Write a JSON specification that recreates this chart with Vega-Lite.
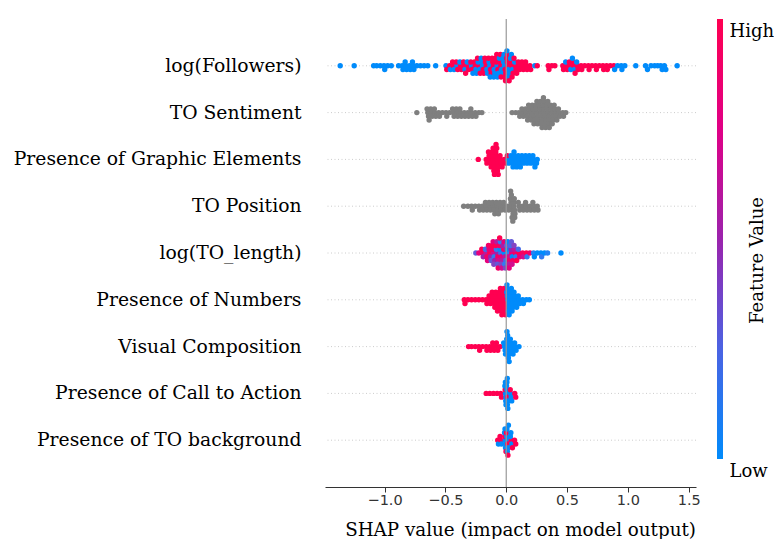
{
  "$schema": "https://vega.github.io/schema/vega-lite/v6.json",
  "background": "white",
  "padding": {"left": 13, "top": 18, "right": 0, "bottom": 0},
  "config": {"view": {"stroke": null}},
  "datasets": {
    "features": [
      {"k": 1, "f": "log(Followers)"},
      {"k": 2, "f": "TO Sentiment"},
      {"k": 3, "f": "Presence of Graphic Elements"},
      {"k": 4, "f": "TO Position"},
      {"k": 5, "f": "log(TO_length)"},
      {"k": 6, "f": "Presence of Numbers"},
      {"k": 7, "f": "Visual Composition"},
      {"k": 8, "f": "Presence of Call to Action"},
      {"k": 9, "f": "Presence of TO background"}
    ],
    "points": [
      {"k":1,"s":-1.365,"v":0},{"k":1,"s":-1.25,"v":0},{"k":1,"s":-1.09,"v":0},{"k":1,"s":-1.065,"v":0},{"k":1,"s":-1.035,"v":0},
      {"k":1,"s":-1.005,"v":0},{"k":1,"s":-0.999,"v":0},{"k":1,"s":-0.975,"v":0},{"k":1,"s":-0.945,"v":0},{"k":1,"s":-0.885,"v":0},
      {"k":1,"s":-0.855,"v":0},{"k":1,"s":-0.849,"v":0},{"k":1,"s":-0.825,"v":0},{"k":1,"s":-0.819,"v":0},{"k":1,"s":-0.831,"v":0},
      {"k":1,"s":-0.795,"v":0},{"k":1,"s":-0.789,"v":0},{"k":1,"s":-0.765,"v":0},{"k":1,"s":-0.759,"v":0},{"k":1,"s":-0.771,"v":0},
      {"k":1,"s":-0.735,"v":0},{"k":1,"s":-0.705,"v":0},{"k":1,"s":-0.675,"v":0},{"k":1,"s":-0.645,"v":0},{"k":1,"s":-0.58,"v":0},
      {"k":1,"s":-0.495,"v":0},{"k":1,"s":-0.489,"v":1},{"k":1,"s":-0.465,"v":1},{"k":1,"s":-0.459,"v":0},
      {"k":1,"s":-0.435,"v":1},{"k":1,"s":-0.429,"v":0},{"k":1,"s":-0.441,"v":1},
      {"k":1,"s":-0.405,"v":0},{"k":1,"s":-0.399,"v":1},{"k":1,"s":-0.411,"v":1},
      {"k":1,"s":-0.375,"v":1},{"k":1,"s":-0.369,"v":1},{"k":1,"s":-0.381,"v":0},
      {"k":1,"s":-0.345,"v":1},{"k":1,"s":-0.339,"v":0},{"k":1,"s":-0.351,"v":1},{"k":1,"s":-0.334,"v":1},
      {"k":1,"s":-0.315,"v":1},{"k":1,"s":-0.309,"v":1},{"k":1,"s":-0.321,"v":0},
      {"k":1,"s":-0.285,"v":0},{"k":1,"s":-0.279,"v":1},{"k":1,"s":-0.291,"v":1},{"k":1,"s":-0.274,"v":0},
      {"k":1,"s":-0.255,"v":1},{"k":1,"s":-0.249,"v":0},{"k":1,"s":-0.261,"v":1},{"k":1,"s":-0.244,"v":0},
      {"k":1,"s":-0.225,"v":1},{"k":1,"s":-0.219,"v":0},{"k":1,"s":-0.231,"v":0},{"k":1,"s":-0.214,"v":1},{"k":1,"s":-0.236,"v":1},
      {"k":1,"s":-0.195,"v":0},{"k":1,"s":-0.189,"v":1},{"k":1,"s":-0.201,"v":0},{"k":1,"s":-0.184,"v":1},{"k":1,"s":-0.206,"v":0},
      {"k":1,"s":-0.165,"v":1},{"k":1,"s":-0.159,"v":0},{"k":1,"s":-0.171,"v":1},{"k":1,"s":-0.154,"v":0},{"k":1,"s":-0.176,"v":1},
      {"k":1,"s":-0.135,"v":0},{"k":1,"s":-0.129,"v":1},{"k":1,"s":-0.141,"v":0},{"k":1,"s":-0.124,"v":1},{"k":1,"s":-0.146,"v":1},{"k":1,"s":-0.132,"v":0},
      {"k":1,"s":-0.105,"v":1},{"k":1,"s":-0.099,"v":0},{"k":1,"s":-0.111,"v":1},{"k":1,"s":-0.094,"v":0},{"k":1,"s":-0.116,"v":1},{"k":1,"s":-0.102,"v":0},
      {"k":1,"s":-0.075,"v":0},{"k":1,"s":-0.069,"v":1},{"k":1,"s":-0.081,"v":1},{"k":1,"s":-0.064,"v":0},{"k":1,"s":-0.086,"v":1},{"k":1,"s":-0.072,"v":0},{"k":1,"s":-0.078,"v":1},
      {"k":1,"s":-0.045,"v":1},{"k":1,"s":-0.039,"v":0},{"k":1,"s":-0.051,"v":1},{"k":1,"s":-0.034,"v":0},{"k":1,"s":-0.056,"v":0},{"k":1,"s":-0.042,"v":1},{"k":1,"s":-0.048,"v":1},
      {"k":1,"s":-0.015,"v":0},{"k":1,"s":-0.009,"v":1},{"k":1,"s":-0.021,"v":0},{"k":1,"s":-0.004,"v":1},{"k":1,"s":-0.026,"v":0},{"k":1,"s":-0.012,"v":1},{"k":1,"s":-0.018,"v":0},{"k":1,"s":-0.006,"v":1},
      {"k":1,"s":0.015,"v":1},{"k":1,"s":0.021,"v":0},{"k":1,"s":0.009,"v":1},{"k":1,"s":0.026,"v":0},{"k":1,"s":0.004,"v":1},{"k":1,"s":0.018,"v":0},{"k":1,"s":0.012,"v":1},{"k":1,"s":0.024,"v":1},{"k":1,"s":0.006,"v":0},
      {"k":1,"s":0.045,"v":1},{"k":1,"s":0.051,"v":0},{"k":1,"s":0.039,"v":1},{"k":1,"s":0.056,"v":1},{"k":1,"s":0.034,"v":0},{"k":1,"s":0.048,"v":1},{"k":1,"s":0.042,"v":0},
      {"k":1,"s":0.075,"v":1},{"k":1,"s":0.081,"v":1},{"k":1,"s":0.069,"v":0},{"k":1,"s":0.086,"v":1},{"k":1,"s":0.064,"v":1},
      {"k":1,"s":0.105,"v":1},{"k":1,"s":0.111,"v":1},{"k":1,"s":0.099,"v":1},
      {"k":1,"s":0.135,"v":1},{"k":1,"s":0.141,"v":1},{"k":1,"s":0.129,"v":1},
      {"k":1,"s":0.165,"v":1},{"k":1,"s":0.171,"v":1},{"k":1,"s":0.159,"v":1},
      {"k":1,"s":0.195,"v":1},{"k":1,"s":0.201,"v":1},{"k":1,"s":0.235,"v":0},{"k":1,"s":0.255,"v":1},
      {"k":1,"s":0.345,"v":1},{"k":1,"s":0.351,"v":1},{"k":1,"s":0.375,"v":1},{"k":1,"s":0.4,"v":1},
      {"k":1,"s":0.465,"v":1},{"k":1,"s":0.471,"v":1},
      {"k":1,"s":0.495,"v":1},{"k":1,"s":0.501,"v":1},{"k":1,"s":0.489,"v":0},
      {"k":1,"s":0.525,"v":1},{"k":1,"s":0.531,"v":0},{"k":1,"s":0.519,"v":1},
      {"k":1,"s":0.555,"v":1},{"k":1,"s":0.561,"v":0},{"k":1,"s":0.549,"v":1},{"k":1,"s":0.566,"v":1},{"k":1,"s":0.544,"v":0},
      {"k":1,"s":0.585,"v":1},{"k":1,"s":0.591,"v":1},{"k":1,"s":0.579,"v":0},
      {"k":1,"s":0.615,"v":1},{"k":1,"s":0.621,"v":1},{"k":1,"s":0.645,"v":1},{"k":1,"s":0.675,"v":1},{"k":1,"s":0.681,"v":1},
      {"k":1,"s":0.705,"v":1},{"k":1,"s":0.735,"v":1},{"k":1,"s":0.741,"v":1},{"k":1,"s":0.765,"v":1},{"k":1,"s":0.795,"v":1},{"k":1,"s":0.801,"v":1},
      {"k":1,"s":0.825,"v":1},{"k":1,"s":0.831,"v":1},{"k":1,"s":0.855,"v":1},{"k":1,"s":0.885,"v":1},{"k":1,"s":0.891,"v":0},
      {"k":1,"s":0.915,"v":0},{"k":1,"s":0.945,"v":0},{"k":1,"s":0.951,"v":0},{"k":1,"s":0.975,"v":0},
      {"k":1,"s":1.065,"v":0},{"k":1,"s":1.145,"v":0},{"k":1,"s":1.161,"v":0},{"k":1,"s":1.19,"v":0},{"k":1,"s":1.22,"v":0},
      {"k":1,"s":1.245,"v":0},{"k":1,"s":1.27,"v":0},{"k":1,"s":1.282,"v":0},{"k":1,"s":1.3,"v":0},{"k":1,"s":1.312,"v":0},{"k":1,"s":1.405,"v":0},

      {"k":2,"s":-0.735},{"k":2,"s":-0.645},{"k":2,"s":-0.639},{"k":2,"s":-0.651},{"k":2,"s":-0.634},
      {"k":2,"s":-0.615},{"k":2,"s":-0.609},{"k":2,"s":-0.621},{"k":2,"s":-0.585},{"k":2,"s":-0.579},{"k":2,"s":-0.591},
      {"k":2,"s":-0.555},{"k":2,"s":-0.549},{"k":2,"s":-0.525},{"k":2,"s":-0.495},{"k":2,"s":-0.489},{"k":2,"s":-0.465},
      {"k":2,"s":-0.435},{"k":2,"s":-0.429},{"k":2,"s":-0.441},{"k":2,"s":-0.405},{"k":2,"s":-0.399},{"k":2,"s":-0.411},
      {"k":2,"s":-0.375},{"k":2,"s":-0.369},{"k":2,"s":-0.381},{"k":2,"s":-0.345},{"k":2,"s":-0.339},
      {"k":2,"s":-0.315},{"k":2,"s":-0.309},{"k":2,"s":-0.285},{"k":2,"s":-0.279},{"k":2,"s":-0.291},
      {"k":2,"s":-0.255},{"k":2,"s":-0.249},{"k":2,"s":-0.225},{"k":2,"s":-0.2},
      {"k":2,"s":0.048},{"k":2,"s":0.078},{"k":2,"s":0.105},{"k":2,"s":0.111},
      {"k":2,"s":0.135},{"k":2,"s":0.141},{"k":2,"s":0.129},
      {"k":2,"s":0.165},{"k":2,"s":0.171},{"k":2,"s":0.159},{"k":2,"s":0.176},
      {"k":2,"s":0.195},{"k":2,"s":0.201},{"k":2,"s":0.189},{"k":2,"s":0.206},{"k":2,"s":0.184},
      {"k":2,"s":0.225},{"k":2,"s":0.231},{"k":2,"s":0.219},{"k":2,"s":0.236},{"k":2,"s":0.214},{"k":2,"s":0.228},
      {"k":2,"s":0.255},{"k":2,"s":0.261},{"k":2,"s":0.249},{"k":2,"s":0.266},{"k":2,"s":0.244},{"k":2,"s":0.258},{"k":2,"s":0.252},
      {"k":2,"s":0.285},{"k":2,"s":0.291},{"k":2,"s":0.279},{"k":2,"s":0.296},{"k":2,"s":0.274},{"k":2,"s":0.288},{"k":2,"s":0.282},{"k":2,"s":0.294},
      {"k":2,"s":0.315},{"k":2,"s":0.321},{"k":2,"s":0.309},{"k":2,"s":0.326},{"k":2,"s":0.304},{"k":2,"s":0.318},{"k":2,"s":0.312},{"k":2,"s":0.324},{"k":2,"s":0.306},
      {"k":2,"s":0.345},{"k":2,"s":0.351},{"k":2,"s":0.339},{"k":2,"s":0.356},{"k":2,"s":0.334},{"k":2,"s":0.348},{"k":2,"s":0.342},{"k":2,"s":0.354},
      {"k":2,"s":0.375},{"k":2,"s":0.381},{"k":2,"s":0.369},{"k":2,"s":0.386},{"k":2,"s":0.364},{"k":2,"s":0.378},
      {"k":2,"s":0.405},{"k":2,"s":0.411},{"k":2,"s":0.399},{"k":2,"s":0.416},{"k":2,"s":0.394},
      {"k":2,"s":0.435},{"k":2,"s":0.441},{"k":2,"s":0.429},{"k":2,"s":0.465},{"k":2,"s":0.471},{"k":2,"s":0.49},

      {"k":3,"s":-0.23,"v":1},{"k":3,"s":-0.165,"v":1},{"k":3,"s":-0.159,"v":1},
      {"k":3,"s":-0.135,"v":1},{"k":3,"s":-0.129,"v":1},{"k":3,"s":-0.141,"v":1},{"k":3,"s":-0.124,"v":1},{"k":3,"s":-0.146,"v":1},
      {"k":3,"s":-0.105,"v":1},{"k":3,"s":-0.099,"v":1},{"k":3,"s":-0.111,"v":1},{"k":3,"s":-0.094,"v":1},{"k":3,"s":-0.116,"v":1},{"k":3,"s":-0.102,"v":1},{"k":3,"s":-0.108,"v":1},{"k":3,"s":-0.097,"v":1},
      {"k":3,"s":-0.075,"v":1},{"k":3,"s":-0.069,"v":1},{"k":3,"s":-0.081,"v":1},{"k":3,"s":-0.064,"v":1},{"k":3,"s":-0.086,"v":1},{"k":3,"s":-0.072,"v":1},{"k":3,"s":-0.078,"v":1},{"k":3,"s":-0.066,"v":1},{"k":3,"s":-0.084,"v":1},
      {"k":3,"s":-0.045,"v":1},{"k":3,"s":-0.039,"v":1},{"k":3,"s":-0.051,"v":1},{"k":3,"s":-0.034,"v":1},
      {"k":3,"s":-0.015,"v":1},{"k":3,"s":-0.009,"v":1},
      {"k":3,"s":0.015,"v":0},{"k":3,"s":0.021,"v":0},{"k":3,"s":0.009,"v":1},
      {"k":3,"s":0.045,"v":0},{"k":3,"s":0.051,"v":0},{"k":3,"s":0.039,"v":0},{"k":3,"s":0.056,"v":0},
      {"k":3,"s":0.075,"v":0},{"k":3,"s":0.081,"v":0},{"k":3,"s":0.069,"v":0},{"k":3,"s":0.086,"v":0},{"k":3,"s":0.064,"v":0},
      {"k":3,"s":0.105,"v":0},{"k":3,"s":0.111,"v":0},{"k":3,"s":0.099,"v":0},{"k":3,"s":0.116,"v":0},
      {"k":3,"s":0.135,"v":0},{"k":3,"s":0.141,"v":0},{"k":3,"s":0.129,"v":0},
      {"k":3,"s":0.165,"v":0},{"k":3,"s":0.171,"v":0},{"k":3,"s":0.159,"v":0},
      {"k":3,"s":0.195,"v":0},{"k":3,"s":0.201,"v":0},{"k":3,"s":0.189,"v":0},
      {"k":3,"s":0.225,"v":0},{"k":3,"s":0.231,"v":0},{"k":3,"s":0.219,"v":0},{"k":3,"s":0.236,"v":0},
      {"k":3,"s":0.255,"v":0},{"k":3,"s":0.249,"v":0},

      {"k":4,"s":-0.35},{"k":4,"s":-0.315},{"k":4,"s":-0.285},{"k":4,"s":-0.279},{"k":4,"s":-0.255},
      {"k":4,"s":-0.225},{"k":4,"s":-0.219},{"k":4,"s":-0.195},{"k":4,"s":-0.189},
      {"k":4,"s":-0.165},{"k":4,"s":-0.159},{"k":4,"s":-0.171},{"k":4,"s":-0.135},{"k":4,"s":-0.129},{"k":4,"s":-0.141},
      {"k":4,"s":-0.105},{"k":4,"s":-0.099},{"k":4,"s":-0.111},{"k":4,"s":-0.094},
      {"k":4,"s":-0.075},{"k":4,"s":-0.069},{"k":4,"s":-0.081},{"k":4,"s":-0.064},
      {"k":4,"s":-0.045},{"k":4,"s":-0.039},{"k":4,"s":-0.051},{"k":4,"s":-0.015},{"k":4,"s":-0.009},{"k":4,"s":-0.021},
      {"k":4,"s":0.015},{"k":4,"s":0.021},
      {"k":4,"s":0.045},{"k":4,"s":0.051},{"k":4,"s":0.039},{"k":4,"s":0.056},{"k":4,"s":0.034},{"k":4,"s":0.048},{"k":4,"s":0.042},{"k":4,"s":0.054},{"k":4,"s":0.036},
      {"k":4,"s":0.063},{"k":4,"s":0.068},{"k":4,"s":0.061},{"k":4,"s":0.072},{"k":4,"s":0.066},{"k":4,"s":0.07},
      {"k":4,"s":0.105},{"k":4,"s":0.111},{"k":4,"s":0.099},{"k":4,"s":0.135},{"k":4,"s":0.141},
      {"k":4,"s":0.165},{"k":4,"s":0.171},{"k":4,"s":0.159},{"k":4,"s":0.195},{"k":4,"s":0.201},
      {"k":4,"s":0.225},{"k":4,"s":0.231},{"k":4,"s":0.219},{"k":4,"s":0.255},{"k":4,"s":0.261},

      {"k":5,"s":-0.25,"v":0.3},{"k":5,"s":-0.225,"v":0.8},
      {"k":5,"s":-0.195,"v":0.9},{"k":5,"s":-0.189,"v":0.5},{"k":5,"s":-0.201,"v":1},
      {"k":5,"s":-0.165,"v":0.6},{"k":5,"s":-0.159,"v":0.9},{"k":5,"s":-0.171,"v":0.2},{"k":5,"s":-0.154,"v":0.8},
      {"k":5,"s":-0.135,"v":1},{"k":5,"s":-0.129,"v":0.5},{"k":5,"s":-0.141,"v":0.8},{"k":5,"s":-0.124,"v":0.3},{"k":5,"s":-0.146,"v":0.9},
      {"k":5,"s":-0.105,"v":0.7},{"k":5,"s":-0.099,"v":0.1},{"k":5,"s":-0.111,"v":0.9},{"k":5,"s":-0.094,"v":0.5},{"k":5,"s":-0.116,"v":1},{"k":5,"s":-0.102,"v":0.4},{"k":5,"s":-0.108,"v":0.8},
      {"k":5,"s":-0.075,"v":0.5},{"k":5,"s":-0.069,"v":0.9},{"k":5,"s":-0.081,"v":0.1},{"k":5,"s":-0.064,"v":0.7},{"k":5,"s":-0.086,"v":1},{"k":5,"s":-0.072,"v":0.3},{"k":5,"s":-0.078,"v":0.6},{"k":5,"s":-0.066,"v":0.9},
      {"k":5,"s":-0.045,"v":0.2},{"k":5,"s":-0.039,"v":0.8},{"k":5,"s":-0.051,"v":0},{"k":5,"s":-0.034,"v":0.6},{"k":5,"s":-0.056,"v":0.9},{"k":5,"s":-0.042,"v":0.4},{"k":5,"s":-0.048,"v":0.1},{"k":5,"s":-0.036,"v":0.7},{"k":5,"s":-0.054,"v":1},
      {"k":5,"s":-0.015,"v":0},{"k":5,"s":-0.009,"v":0.6},{"k":5,"s":-0.021,"v":0.9},{"k":5,"s":-0.004,"v":0.2},{"k":5,"s":-0.026,"v":0.5},{"k":5,"s":-0.012,"v":0.1},{"k":5,"s":-0.018,"v":0.8},{"k":5,"s":-0.006,"v":0.4},
      {"k":5,"s":0.015,"v":0.1},{"k":5,"s":0.021,"v":0.7},{"k":5,"s":0.009,"v":0},{"k":5,"s":0.026,"v":0.9},{"k":5,"s":0.004,"v":0.3},{"k":5,"s":0.018,"v":0.6},{"k":5,"s":0.012,"v":0},{"k":5,"s":0.024,"v":0.8},
      {"k":5,"s":0.045,"v":0.8},{"k":5,"s":0.051,"v":0},{"k":5,"s":0.039,"v":0.5},{"k":5,"s":0.056,"v":0.9},{"k":5,"s":0.034,"v":0.2},{"k":5,"s":0.048,"v":0.7},{"k":5,"s":0.042,"v":0.3},
      {"k":5,"s":0.075,"v":0.9},{"k":5,"s":0.081,"v":0.1},{"k":5,"s":0.069,"v":0.6},{"k":5,"s":0.086,"v":1},{"k":5,"s":0.064,"v":0.4},
      {"k":5,"s":0.105,"v":1},{"k":5,"s":0.111,"v":0.8},{"k":5,"s":0.099,"v":0.2},
      {"k":5,"s":0.135,"v":0.9},{"k":5,"s":0.141,"v":0.7},{"k":5,"s":0.165,"v":1},{"k":5,"s":0.171,"v":0.1},{"k":5,"s":0.195,"v":0.85},
      {"k":5,"s":0.225,"v":0.05},{"k":5,"s":0.231,"v":0},{"k":5,"s":0.255,"v":0},{"k":5,"s":0.285,"v":0},{"k":5,"s":0.291,"v":0.1},
      {"k":5,"s":0.315,"v":0},{"k":5,"s":0.34,"v":0.05},{"k":5,"s":0.45,"v":0},

      {"k":6,"s":-0.345,"v":1},{"k":6,"s":-0.339,"v":1},{"k":6,"s":-0.315,"v":1},{"k":6,"s":-0.285,"v":1},{"k":6,"s":-0.255,"v":1},
      {"k":6,"s":-0.225,"v":1},{"k":6,"s":-0.195,"v":1},{"k":6,"s":-0.165,"v":1},{"k":6,"s":-0.159,"v":1},
      {"k":6,"s":-0.135,"v":1},{"k":6,"s":-0.129,"v":1},{"k":6,"s":-0.141,"v":1},
      {"k":6,"s":-0.105,"v":1},{"k":6,"s":-0.099,"v":1},{"k":6,"s":-0.111,"v":1},{"k":6,"s":-0.094,"v":1},{"k":6,"s":-0.116,"v":1},
      {"k":6,"s":-0.075,"v":1},{"k":6,"s":-0.069,"v":1},{"k":6,"s":-0.081,"v":1},{"k":6,"s":-0.064,"v":1},{"k":6,"s":-0.086,"v":1},{"k":6,"s":-0.072,"v":1},
      {"k":6,"s":-0.045,"v":1},{"k":6,"s":-0.039,"v":1},{"k":6,"s":-0.051,"v":1},{"k":6,"s":-0.034,"v":1},{"k":6,"s":-0.056,"v":1},{"k":6,"s":-0.042,"v":1},{"k":6,"s":-0.048,"v":1},{"k":6,"s":-0.036,"v":1},
      {"k":6,"s":-0.015,"v":1},{"k":6,"s":-0.009,"v":1},{"k":6,"s":-0.021,"v":1},{"k":6,"s":-0.004,"v":1},{"k":6,"s":-0.026,"v":1},{"k":6,"s":-0.012,"v":1},{"k":6,"s":-0.018,"v":1},{"k":6,"s":-0.006,"v":1},
      {"k":6,"s":0.015,"v":0},{"k":6,"s":0.021,"v":0},{"k":6,"s":0.009,"v":0},{"k":6,"s":0.026,"v":0},{"k":6,"s":0.004,"v":0},{"k":6,"s":0.018,"v":0},{"k":6,"s":0.012,"v":0},{"k":6,"s":0.024,"v":0},{"k":6,"s":0.006,"v":0},
      {"k":6,"s":0.045,"v":0},{"k":6,"s":0.051,"v":0},{"k":6,"s":0.039,"v":0},{"k":6,"s":0.056,"v":0},{"k":6,"s":0.034,"v":0},{"k":6,"s":0.048,"v":0},{"k":6,"s":0.042,"v":0},
      {"k":6,"s":0.075,"v":0},{"k":6,"s":0.081,"v":0},{"k":6,"s":0.069,"v":0},{"k":6,"s":0.086,"v":0},{"k":6,"s":0.064,"v":0},
      {"k":6,"s":0.105,"v":0},{"k":6,"s":0.111,"v":0},{"k":6,"s":0.099,"v":0},{"k":6,"s":0.135,"v":0},{"k":6,"s":0.141,"v":0},
      {"k":6,"s":0.165,"v":0},{"k":6,"s":0.19,"v":0},

      {"k":7,"s":-0.31,"v":1},{"k":7,"s":-0.285,"v":1},{"k":7,"s":-0.255,"v":1},{"k":7,"s":-0.225,"v":1},{"k":7,"s":-0.219,"v":1},
      {"k":7,"s":-0.195,"v":1},{"k":7,"s":-0.165,"v":1},{"k":7,"s":-0.159,"v":1},{"k":7,"s":-0.135,"v":1},{"k":7,"s":-0.129,"v":1},
      {"k":7,"s":-0.105,"v":1},{"k":7,"s":-0.099,"v":1},{"k":7,"s":-0.111,"v":1},{"k":7,"s":-0.075,"v":1},{"k":7,"s":-0.069,"v":1},{"k":7,"s":-0.081,"v":1},
      {"k":7,"s":-0.05,"v":1},
      {"k":7,"s":-0.015,"v":0},{"k":7,"s":-0.009,"v":0},{"k":7,"s":-0.021,"v":0},{"k":7,"s":-0.006,"v":0},
      {"k":7,"s":0.015,"v":0},{"k":7,"s":0.021,"v":0},{"k":7,"s":0.009,"v":0},{"k":7,"s":0.026,"v":0},{"k":7,"s":0.004,"v":0},{"k":7,"s":0.018,"v":0},{"k":7,"s":0.012,"v":0},{"k":7,"s":0.024,"v":0},{"k":7,"s":0.006,"v":0},
      {"k":7,"s":0.045,"v":0},{"k":7,"s":0.051,"v":0},{"k":7,"s":0.039,"v":0},{"k":7,"s":0.056,"v":0},{"k":7,"s":0.034,"v":0},
      {"k":7,"s":0.075,"v":0},{"k":7,"s":0.081,"v":0},{"k":7,"s":0.069,"v":0},{"k":7,"s":0.105,"v":0},

      {"k":8,"s":-0.165,"v":1},{"k":8,"s":-0.135,"v":1},{"k":8,"s":-0.105,"v":1},{"k":8,"s":-0.075,"v":1},{"k":8,"s":-0.045,"v":1},{"k":8,"s":-0.039,"v":1},
      {"k":8,"s":-0.006,"v":0},{"k":8,"s":-0.003,"v":0},{"k":8,"s":-0.009,"v":1},{"k":8,"s":-0.004,"v":0},{"k":8,"s":-0.011,"v":0},{"k":8,"s":-0.002,"v":0},{"k":8,"s":-0.007,"v":0},
      {"k":8,"s":0.008,"v":0},{"k":8,"s":0.011,"v":1},{"k":8,"s":0.005,"v":0},{"k":8,"s":0.014,"v":0},{"k":8,"s":0.003,"v":0},{"k":8,"s":0.01,"v":0},{"k":8,"s":0.006,"v":0},{"k":8,"s":0.013,"v":0},{"k":8,"s":0.009,"v":0},
      {"k":8,"s":0.035,"v":0},{"k":8,"s":0.04,"v":0},{"k":8,"s":0.033,"v":1},{"k":8,"s":0.045,"v":0},
      {"k":8,"s":0.07,"v":1},{"k":8,"s":0.078,"v":1},

      {"k":9,"s":-0.07,"v":1},{"k":9,"s":-0.064,"v":0},{"k":9,"s":-0.045,"v":1},{"k":9,"s":-0.039,"v":0},{"k":9,"s":-0.051,"v":1},
      {"k":9,"s":-0.008,"v":0},{"k":9,"s":-0.004,"v":0},{"k":9,"s":-0.012,"v":1},{"k":9,"s":-0.006,"v":0},{"k":9,"s":-0.014,"v":0},{"k":9,"s":-0.002,"v":1},{"k":9,"s":-0.01,"v":0},
      {"k":9,"s":0.008,"v":0},{"k":9,"s":0.012,"v":1},{"k":9,"s":0.004,"v":0},{"k":9,"s":0.016,"v":0},{"k":9,"s":0.002,"v":1},{"k":9,"s":0.01,"v":0},{"k":9,"s":0.006,"v":0},{"k":9,"s":0.014,"v":1},{"k":9,"s":0.018,"v":0},
      {"k":9,"s":0.04,"v":1},{"k":9,"s":0.046,"v":0},{"k":9,"s":0.034,"v":0},{"k":9,"s":0.051,"v":1},{"k":9,"s":0.038,"v":0},
      {"k":9,"s":0.068,"v":1},{"k":9,"s":0.078,"v":1}
    ]
  },
  "hconcat": [
    {
      "width": 371,
      "height": 468,
      "layer": [
        {
          "data": {"name": "features"},
          "mark": {"type": "rule", "color": "#cccccc", "strokeWidth": 1, "strokeDash": [1, 2.5]},
          "encoding": {
            "y": {
              "field": "f",
              "type": "nominal",
              "scale": {
                "domain": ["log(Followers)", "TO Sentiment", "Presence of Graphic Elements", "TO Position", "log(TO_length)", "Presence of Numbers", "Visual Composition", "Presence of Call to Action", "Presence of TO background"],
                "paddingInner": 0,
                "paddingOuter": 0.5
              },
              "axis": {
                "title": null,
                "domain": false,
                "ticks": false,
                "grid": false,
                "labelFont": "DejaVu Serif",
                "labelFontSize": 18.75,
                "labelColor": "#000000",
                "labelPadding": 24,
                "labelLimit": 500
              }
            }
          }
        },
        {
          "data": {"name": "points"},
          "transform": [
            {"lookup": "k", "from": {"data": {"name": "features"}, "key": "k", "fields": ["f"]}},
            {"calculate": "floor(datum.s / 0.03)", "as": "b"},
            {"window": [{"op": "row_number", "as": "r"}], "groupby": ["k", "b"]},
            {"calculate": "ceil((datum.r - 1) / 2) * ((datum.r - 1) % 2 == 1 ? 1 : -1)", "as": "ys"},
            {"joinaggregate": [{"op": "max", "field": "ys", "as": "m"}], "groupby": ["k"]},
            {"calculate": "datum.ys * 0.4 / (datum.m + 1)", "as": "off"}
          ],
          "encoding": {
            "x": {
              "field": "s",
              "type": "quantitative",
              "scale": {"domain": [-1.49, 1.56], "nice": false, "zero": false},
              "axis": {
                "values": [-1, -0.5, 0, 0.5, 1, 1.5],
                "format": ".1f",
                "grid": false,
                "domainColor": "#333333",
                "domainWidth": 1,
                "tickColor": "#333333",
                "tickSize": 5,
                "tickWidth": 1,
                "labelFont": "DejaVu Sans",
                "labelFontSize": 14.5,
                "labelColor": "#333333",
                "labelPadding": 1,
                "labelFlush": false,
                "title": "SHAP value (impact on model output)",
                "titleFont": "DejaVu Serif",
                "titleFontSize": 18.3,
                "titleFontWeight": "normal",
                "titleColor": "#000000",
                "titleX": 195,
                "titleY": 48,
                "titleBaseline": "alphabetic"
              }
            },
            "y": {"field": "f", "type": "nominal"},
            "yOffset": {"field": "off", "type": "quantitative", "scale": {"domain": [-0.5, 0.5], "nice": false, "zero": false}}
          },
          "layer": [
            {
              "transform": [{"filter": "isValid(datum.v)"}],
              "mark": {"type": "circle", "size": 29, "opacity": 1},
              "encoding": {
                "color": {
                  "field": "v",
                  "type": "quantitative",
                  "scale": {
                    "domain": [0, 0.25, 0.5, 0.75, 1],
                    "range": ["#008bfb", "#4b63e3", "#9b23ad", "#e00086", "#ff0051"],
                    "interpolate": "lab"
                  },
                  "legend": null
                }
              }
            },
            {
              "transform": [{"filter": "!isValid(datum.v)"}],
              "mark": {"type": "circle", "size": 29, "opacity": 1, "color": "#7f7f7f"},
              "encoding": {}
            }
          ]
        },
        {
          "data": {"values": [{"z": 0}]},
          "mark": {"type": "rule", "color": "#999999", "strokeWidth": 1.2},
          "encoding": {"x": {"field": "z", "type": "quantitative"}}
        }
      ]
    },
    {
      "width": 6,
      "height": 440,
      "data": {"values": [{"lo": 0, "hi": 1}]},
      "mark": {
        "type": "rect",
        "color": {
          "gradient": "linear",
          "x1": 0, "y1": 1, "x2": 0, "y2": 0,
          "stops": [
            {"offset": 0, "color": "#008bfb"},
            {"offset": 0.25, "color": "#4b63e3"},
            {"offset": 0.5, "color": "#9b23ad"},
            {"offset": 0.75, "color": "#e00086"},
            {"offset": 1, "color": "#ff0051"}
          ]
        }
      },
      "encoding": {
        "y": {
          "field": "lo",
          "type": "quantitative",
          "scale": {"domain": [0, 1], "nice": false},
          "axis": {
            "orient": "right",
            "values": [0, 1],
            "labelExpr": "datum.value == 1 ? 'High' : 'Low'",
            "domain": false,
            "ticks": false,
            "grid": false,
            "labelFont": "DejaVu Serif",
            "labelFontSize": 18,
            "labelColor": "#000000",
            "labelPadding": 6,
            "labelFlush": false,
            "labelBaseline": "middle",
            "labelOffset": 12,
            "title": "Feature Value",
            "titleFont": "DejaVu Serif",
            "titleFontSize": 18,
            "titleFontWeight": "normal",
            "titleColor": "#000000",
            "titleAngle": 270,
            "titleAlign": "center",
            "titleBaseline": "middle",
            "titleX": 34,
            "titleY": 241
          }
        },
        "y2": {"field": "hi"}
      }
    }
  ],
  "spacing": 21,
  "bounds": "flush",
  "resolve": {"scale": {"y": "independent", "color": "independent", "x": "independent"}, "axis": {"y": "independent"}}
}
